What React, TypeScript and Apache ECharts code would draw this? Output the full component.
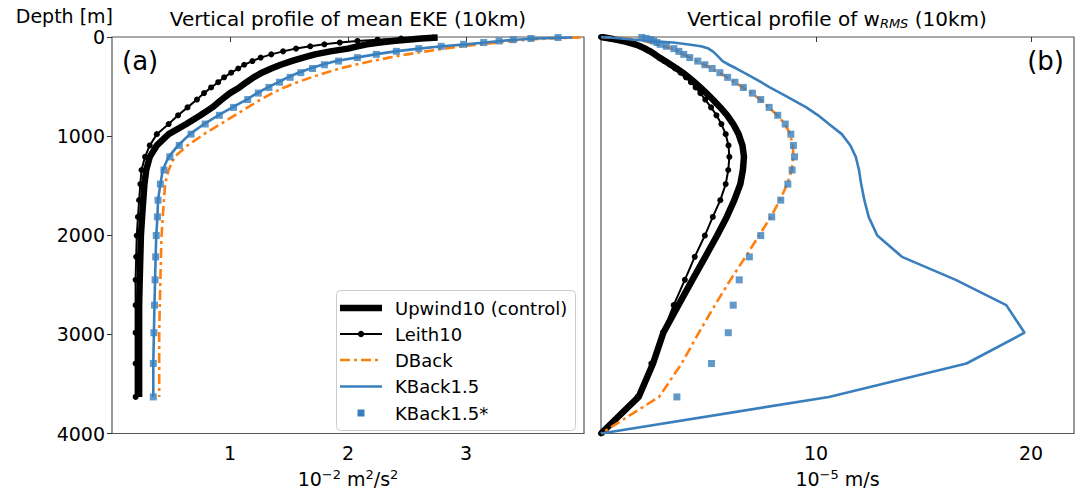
import React, { useEffect, useRef } from "react";
import * as echarts from "echarts";

// Depth levels (m) of the model layers
const depth = [5, 15, 27, 40, 56, 74, 94, 117, 145, 175, 208, 243, 280, 318, 360, 407, 456, 509, 566, 631, 710, 790, 878, 980, 1094, 1209, 1342, 1484, 1646, 1815, 2003, 2218, 2450, 2705, 2983, 3294, 3631];
// Interface depths for w (includes surface and bottom)
const wDepth = [0, 5, 15, 27, 40, 56, 74, 94, 117, 145, 175, 208, 243, 280, 318, 360, 407, 456, 509, 566, 631, 710, 790, 878, 980, 1094, 1209, 1342, 1484, 1646, 1815, 2003, 2218, 2450, 2705, 2983, 3294, 3631, 4000];

// Panel (a): mean EKE, 10^-2 m^2/s^2
const ekeUpwind = [2.76, 2.62, 2.5, 2.38, 2.27, 2.16, 2.08, 2.0, 1.85, 1.72, 1.62, 1.52, 1.43, 1.35, 1.27, 1.2, 1.14, 1.08, 1.0, 0.93, 0.85, 0.75, 0.63, 0.48, 0.38, 0.32, 0.29, 0.275, 0.265, 0.255, 0.245, 0.24, 0.235, 0.23, 0.23, 0.23, 0.23];
const ekeLeith = [2.72, 2.45, 2.25, 2.08, 1.93, 1.8, 1.68, 1.56, 1.45, 1.35, 1.26, 1.19, 1.12, 1.07, 1.01, 0.95, 0.9, 0.84, 0.78, 0.72, 0.64, 0.56, 0.48, 0.38, 0.32, 0.28, 0.25, 0.24, 0.23, 0.22, 0.21, 0.205, 0.2, 0.2, 0.2, 0.2, 0.2];
const ekeDBack = [3.97, 3.7, 3.52, 3.4, 3.27, 3.12, 2.97, 2.82, 2.66, 2.5, 2.35, 2.2, 2.06, 1.93, 1.81, 1.69, 1.57, 1.46, 1.36, 1.26, 1.15, 1.04, 0.92, 0.78, 0.64, 0.53, 0.48, 0.45, 0.44, 0.43, 0.42, 0.415, 0.41, 0.405, 0.4, 0.4, 0.4];
const ekeKBack = [3.9, 3.6, 3.42, 3.29, 3.16, 3.0, 2.8, 2.6, 2.4, 2.23, 2.07, 1.9, 1.78, 1.68, 1.58, 1.49, 1.41, 1.32, 1.23, 1.14, 1.02, 0.9, 0.78, 0.66, 0.56, 0.48, 0.43, 0.41, 0.39, 0.385, 0.375, 0.37, 0.365, 0.36, 0.355, 0.35, 0.35];
const ekeKBackStar = [3.78, 3.55, 3.4, 3.28, 3.15, 2.98, 2.79, 2.6, 2.41, 2.24, 2.08, 1.92, 1.8, 1.7, 1.6, 1.51, 1.42, 1.33, 1.24, 1.15, 1.03, 0.91, 0.79, 0.67, 0.57, 0.49, 0.44, 0.41, 0.39, 0.385, 0.375, 0.37, 0.365, 0.36, 0.355, 0.35, 0.35];

// Panel (b): w_RMS, 10^-5 m/s
const wUpwind = [0, 0.15, 0.42, 0.7, 1.0, 1.3, 1.58, 1.82, 2.05, 2.28, 2.5, 2.72, 2.98, 3.25, 3.52, 3.8, 4.08, 4.35, 4.62, 4.9, 5.2, 5.55, 5.87, 6.15, 6.4, 6.58, 6.65, 6.6, 6.48, 6.2, 5.85, 5.4, 4.85, 4.25, 3.6, 2.9, 2.42, 1.75, 0];
const wLeith = [0, 0.15, 0.42, 0.7, 1.0, 1.3, 1.58, 1.82, 2.05, 2.28, 2.5, 2.7, 2.95, 3.2, 3.45, 3.7, 3.95, 4.18, 4.4, 4.62, 4.85, 5.12, 5.37, 5.6, 5.8, 5.93, 5.97, 5.92, 5.8, 5.55, 5.2, 4.83, 4.36, 3.9, 3.38, 2.88, 2.34, 1.7, 0];
const wDBack = [0, 0.6, 1.2, 1.65, 2.0, 2.3, 2.6, 2.95, 3.3, 3.6, 3.85, 4.15, 4.45, 4.8, 5.15, 5.5, 5.87, 6.22, 6.6, 7.0, 7.4, 7.8, 8.2, 8.55, 8.8, 8.92, 8.95, 8.87, 8.66, 8.32, 7.9, 7.35, 6.72, 6.02, 5.3, 4.55, 3.75, 2.7, 0];
const wKBack = [0, 0.4, 0.95, 1.6, 2.25, 3.35, 4.0, 4.65, 5.0, 5.2, 5.35, 5.5, 5.65, 5.95, 6.3, 6.65, 7.05, 7.45, 7.85, 8.35, 8.9, 9.55, 10.1, 10.6, 11.2, 11.6, 11.85, 12.0, 12.1, 12.25, 12.45, 12.85, 14.0, 16.5, 18.85, 19.7, 17.0, 10.6, 0];
const wKBackStar = [1.9, 2.1, 2.3, 2.45, 2.6, 2.75, 3.04, 3.39, 3.62, 3.85, 4.13, 4.5, 4.83, 5.17, 5.53, 5.89, 6.23, 6.62, 7.04, 7.43, 7.82, 8.22, 8.57, 8.83, 8.95, 9.0, 8.89, 8.69, 8.36, 7.94, 7.43, 6.9, 6.43, 6.15, 5.92, 5.14, 3.53];

// Axis tick values
const ekeTicks = [1, 2, 3];
const wTicks = [10, 20];

const names = ["Upwind10 (control)", "Leith10", "DBack", "KBack1.5", "KBack1.5*"];

const BLACK = "#000000";
const ORANGE = "#ff7f0e";
const BLUE = "#3a7fbd";
const FONT = "DejaVu Sans";
const DASHDOT = [10, 4, 3, 4];

const pairs = (xs: number[], ys: number[]) => xs.map((v, i) => [v, ys[i]]);

export default function App() {
  const ref = useRef<HTMLDivElement>(null);

  useEffect(() => {
    const chart = echarts.init(ref.current!, null, { renderer: "svg" });

    const tickStyle = { color: "#333", width: 1 };
    const labelStyle = { fontSize: 19, color: "#000", fontFamily: FONT };
    const nameStyle = {
      fontSize: 19,
      color: "#000",
      fontFamily: FONT,
      rich: {
        sup: { fontSize: 13, color: "#000", fontFamily: FONT, padding: [0, 0, 9, 0] },
      },
    };

    const makeSeries = (grid: number, up: number[][], le: number[][], db: number[][], kb: number[][], ks: number[][]) => [
      {
        name: names[0], type: "line", xAxisIndex: grid, yAxisIndex: grid, data: up,
        symbol: "none", lineStyle: { color: BLACK, width: 6.5 }, itemStyle: { color: BLACK }, z: 2,
      },
      {
        name: names[1], type: "line", xAxisIndex: grid, yAxisIndex: grid, data: le,
        symbol: "circle", symbolSize: 6, showSymbol: true,
        lineStyle: { color: BLACK, width: 2 }, itemStyle: { color: BLACK }, z: 3,
      },
      {
        name: names[2], type: "line", xAxisIndex: grid, yAxisIndex: grid, data: db,
        symbol: "none", lineStyle: { color: ORANGE, width: 2.6, type: DASHDOT }, itemStyle: { color: ORANGE }, z: 4,
      },
      {
        name: names[3], type: "line", xAxisIndex: grid, yAxisIndex: grid, data: kb,
        symbol: "none", lineStyle: { color: BLUE, width: 2.6 }, itemStyle: { color: BLUE }, z: 5,
      },
      {
        name: names[4], type: "scatter", xAxisIndex: grid, yAxisIndex: grid, data: ks,
        symbol: "rect", symbolSize: 7, itemStyle: { color: BLUE }, z: 6,
      },
    ];

    // Legend drawn as graphic elements (box, handles, labels)
    const LX = 336.5, LY = 290.5, LW = 239, LH = 140;
    const rowY = [308, 334, 360, 386.5, 413];
    const hx1 = 340, hx2 = 382, tx = 395;
    const legendChildren: any[] = [
      { type: "rect", shape: { x: LX, y: LY, width: LW, height: LH, r: 4 }, style: { fill: "#fff", stroke: "#cccccc", lineWidth: 1 } },
      { type: "line", shape: { x1: hx1, y1: rowY[0], x2: hx2, y2: rowY[0] }, style: { stroke: BLACK, lineWidth: 6.5 } },
      { type: "line", shape: { x1: hx1, y1: rowY[1], x2: hx2, y2: rowY[1] }, style: { stroke: BLACK, lineWidth: 2 } },
      { type: "circle", shape: { cx: (hx1 + hx2) / 2, cy: rowY[1], r: 3.2 }, style: { fill: BLACK } },
      { type: "line", shape: { x1: hx1, y1: rowY[2], x2: hx2, y2: rowY[2] }, style: { stroke: ORANGE, lineWidth: 2.6, lineDash: DASHDOT } },
      { type: "line", shape: { x1: hx1, y1: rowY[3], x2: hx2, y2: rowY[3] }, style: { stroke: BLUE, lineWidth: 2.6 } },
      { type: "rect", shape: { x: (hx1 + hx2) / 2 - 3.5, y: rowY[4] - 3.5, width: 7, height: 7 }, style: { fill: BLUE } },
      ...names.map((n, i) => ({
        type: "text", x: tx, y: rowY[i],
        style: { text: n, font: `18px "${FONT}"`, fill: "#000", align: "left", verticalAlign: "middle" },
      })),
    ];

    chart.setOption({
      animation: false,
      backgroundColor: "#ffffff",
      textStyle: { fontFamily: FONT },
      grid: [
        { left: 112, top: 37, width: 472, height: 402, show: true, borderColor: "#555", borderWidth: 1.2, backgroundColor: "transparent" },
        { left: 601, top: 37, width: 473, height: 402, show: true, borderColor: "#555", borderWidth: 1.2, backgroundColor: "transparent" },
      ],
      xAxis: [
        {
          gridIndex: 0, type: "value", min: 0, max: 4,
          axisLine: { show: false }, splitLine: { show: false },
          axisTick: { show: true, customValues: ekeTicks, length: 5, lineStyle: tickStyle },
          axisLabel: { ...labelStyle, customValues: ekeTicks, margin: 10 },
          name: "10{sup|−2} m{sup|2}/s{sup|2}", nameLocation: "middle", nameGap: 34, nameTextStyle: nameStyle,
        },
        {
          gridIndex: 1, type: "value", min: 0, max: 22,
          axisLine: { show: false }, splitLine: { show: false },
          axisTick: { show: true, customValues: wTicks, length: 5, lineStyle: tickStyle },
          axisLabel: { ...labelStyle, customValues: wTicks, margin: 10 },
          name: "10{sup|−5} m/s", nameLocation: "middle", nameGap: 34, nameTextStyle: nameStyle,
        },
      ],
      yAxis: [
        {
          gridIndex: 0, type: "value", inverse: true, min: 0, max: 4000, interval: 1000,
          axisLine: { show: false }, splitLine: { show: false },
          axisTick: { show: true, length: 5, lineStyle: tickStyle },
          axisLabel: { ...labelStyle, margin: 7, showMinLabel: true, showMaxLabel: true, formatter: (v: number) => String(v) },
        },
        {
          gridIndex: 1, type: "value", inverse: true, min: 0, max: 4000, interval: 1000,
          axisLine: { show: false }, splitLine: { show: false },
          axisTick: { show: false }, axisLabel: { show: false },
        },
      ],
      graphic: [
        {
          type: "text", x: 348, y: 19,
          style: { text: "Vertical profile of mean EKE (10km)", font: `20px "${FONT}"`, fill: "#000", align: "center", verticalAlign: "middle" },
        },
        {
          type: "text", x: 837, y: 19,
          style: {
            text: "Vertical profile of w{sub|RMS} (10km)",
            font: `20px "${FONT}"`, fill: "#000", align: "center", verticalAlign: "middle",
            rich: { sub: { fontSize: 13, fontStyle: "italic", fontFamily: FONT, fill: "#000", padding: [9, 0, 0, 0] } },
          },
        },
        {
          type: "text", x: 113, y: 16,
          style: { text: "Depth [m]", font: `19px "${FONT}"`, fill: "#000", align: "right", verticalAlign: "middle" },
        },
        {
          type: "text", x: 122, y: 61,
          style: { text: "(a)", font: `26px "${FONT}"`, fill: "#000", align: "left", verticalAlign: "middle" },
        },
        {
          type: "text", x: 1064, y: 61,
          style: { text: "(b)", font: `26px "${FONT}"`, fill: "#000", align: "right", verticalAlign: "middle" },
        },
        { type: "group", z: 100, children: legendChildren },
      ],
      series: [
        ...makeSeries(0,
          pairs(ekeUpwind, depth), pairs(ekeLeith, depth), pairs(ekeDBack, depth),
          pairs(ekeKBack, depth), pairs(ekeKBackStar, depth)),
        ...makeSeries(1,
          pairs(wUpwind, wDepth), pairs(wLeith, wDepth), pairs(wDBack, wDepth),
          pairs(wKBack, wDepth), pairs(wKBackStar, depth)),
      ],
    });

    return () => chart.dispose();
  }, []);

  return (
    <div
      ref={ref}
      style={{ position: "fixed", left: 0, top: 0, width: 1079, height: 493, background: "#fff" }}
    />
  );
}
